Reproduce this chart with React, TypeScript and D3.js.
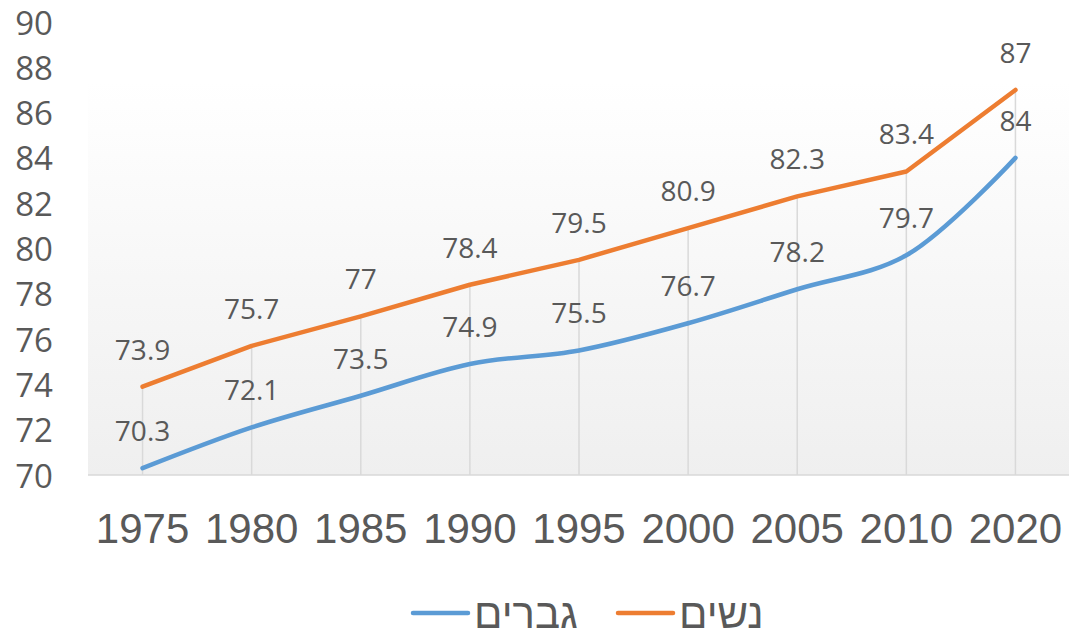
import * as d3 from 'd3';
import { useEffect, useRef } from 'react';

const years = ['1975', '1980', '1985', '1990', '1995', '2000', '2005', '2010', '2020'];
const men = [70.3, 72.1, 73.5, 74.9, 75.5, 76.7, 78.2, 79.7, 84];
const women = [73.9, 75.7, 77, 78.4, 79.5, 80.9, 82.3, 83.4, 87];
const yTicks = [70, 72, 74, 76, 78, 80, 82, 84, 86, 88, 90];
const menLabel = 'גברים';
const womenLabel = 'נשים';

const BLUE = '#5b9bd5';
const ORANGE = '#ed7d31';
const TEXT = '#595959';

const App = () => {
  const svgRef = useRef<SVGSVGElement | null>(null);

  useEffect(() => {
    const width = 1069;
    const height = 631;
    const plot = { left: 88, right: 1070, top: 22, bottom: 475 };

    const x = d3.scaleBand<string>().domain(years).range([plot.left, plot.right]);
    const cx = (d: string) => x(d)! + x.bandwidth() / 2;
    const y = d3.scaleLinear().domain([70, 90]).range([plot.bottom, plot.top]);

    const svg = d3.select(svgRef.current)
      .attr('width', width)
      .attr('height', height);
    svg.selectAll('*').remove();

    // background gradient of plot area
    const defs = svg.append('defs');
    const grad = defs.append('linearGradient')
      .attr('id', 'plotbg')
      .attr('x1', 0).attr('y1', 0).attr('x2', 0).attr('y2', 1);
    grad.append('stop').attr('offset', '0%').attr('stop-color', '#ffffff');
    grad.append('stop').attr('offset', '13%').attr('stop-color', '#ffffff');
    grad.append('stop').attr('offset', '100%').attr('stop-color', '#efefef');

    svg.append('rect')
      .attr('x', plot.left)
      .attr('y', plot.top)
      .attr('width', plot.right - plot.left)
      .attr('height', plot.bottom - plot.top)
      .attr('fill', 'url(#plotbg)');

    // drop lines
    svg.append('g')
      .selectAll('line')
      .data(years)
      .join('line')
      .attr('x1', (d) => cx(d))
      .attr('x2', (d) => cx(d))
      .attr('y1', (_d, i) => y(Math.max(men[i], women[i])))
      .attr('y2', y(70))
      .attr('stroke', '#d9d9d9')
      .attr('stroke-width', 1.5);

    // x axis line
    svg.append('line')
      .attr('x1', plot.left)
      .attr('x2', plot.right)
      .attr('y1', y(70))
      .attr('y2', y(70))
      .attr('stroke', '#d9d9d9')
      .attr('stroke-width', 1.5);

    // y tick labels
    svg.append('g')
      .selectAll('text')
      .data(yTicks)
      .join('text')
      .attr('x', 53)
      .attr('y', (d) => y(d))
      .attr('text-anchor', 'end')
      .attr('dominant-baseline', 'central')
      .attr('font-family', '"Open Sans", sans-serif')
      .attr('font-size', 33)
      .attr('fill', TEXT)
      .text((d) => d);

    // x tick labels
    svg.append('g')
      .selectAll('text')
      .data(years)
      .join('text')
      .attr('x', (d) => cx(d))
      .attr('y', 528)
      .attr('text-anchor', 'middle')
      .attr('dominant-baseline', 'central')
      .attr('font-family', '"Liberation Sans", Arial, sans-serif')
      .attr('font-size', 42)
      .attr('fill', TEXT)
      .text((d) => d);

    // lines
    const lineMen = d3.line<number>()
      .x((_d, i) => cx(years[i]))
      .y((d) => y(d))
      .curve(d3.curveCatmullRom.alpha(0.5));
    const lineWomen = d3.line<number>()
      .x((_d, i) => cx(years[i]))
      .y((d) => y(d));

    svg.append('path')
      .datum(men)
      .attr('fill', 'none')
      .attr('stroke', BLUE)
      .attr('stroke-width', 4.5)
      .attr('stroke-linecap', 'round')
      .attr('d', lineMen);

    svg.append('path')
      .datum(women)
      .attr('fill', 'none')
      .attr('stroke', ORANGE)
      .attr('stroke-width', 4.5)
      .attr('stroke-linecap', 'round')
      .attr('stroke-linejoin', 'round')
      .attr('d', lineWomen);

    // data labels
    [men, women].forEach((series) => {
      svg.append('g')
        .selectAll('text')
        .data(series)
        .join('text')
        .attr('x', (_d, i) => cx(years[i]))
        .attr('y', (d) => y(d) - 38)
        .attr('text-anchor', 'middle')
        .attr('dominant-baseline', 'central')
        .attr('font-family', '"Open Sans", sans-serif')
        .attr('font-size', 28)
        .attr('fill', TEXT)
        .text((d) => d);
    });

    // legend
    const legend = [
      { label: menLabel, color: BLUE, lx: 413, tx: 474 },
      { label: womenLabel, color: ORANGE, lx: 618, tx: 679 },
    ];
    const ly = 613;
    const lg = svg.append('g');
    legend.forEach((l) => {
      lg.append('line')
        .attr('x1', l.lx)
        .attr('x2', l.lx + 55)
        .attr('y1', ly)
        .attr('y2', ly)
        .attr('stroke', l.color)
        .attr('stroke-width', 4.5)
        .attr('stroke-linecap', 'round');
      lg.append('text')
        .attr('x', l.tx)
        .attr('y', ly)
        .attr('text-anchor', 'start')
        .attr('dominant-baseline', 'central')
        .attr('font-family', '"Liberation Sans", Arial, sans-serif')
        .attr('font-size', 42)
        .attr('fill', TEXT)
        .text(l.label);
    });
  }, []);

  return <svg ref={svgRef} style={{ position: 'absolute', left: 0, top: 0 }}></svg>;
};

export default App;
